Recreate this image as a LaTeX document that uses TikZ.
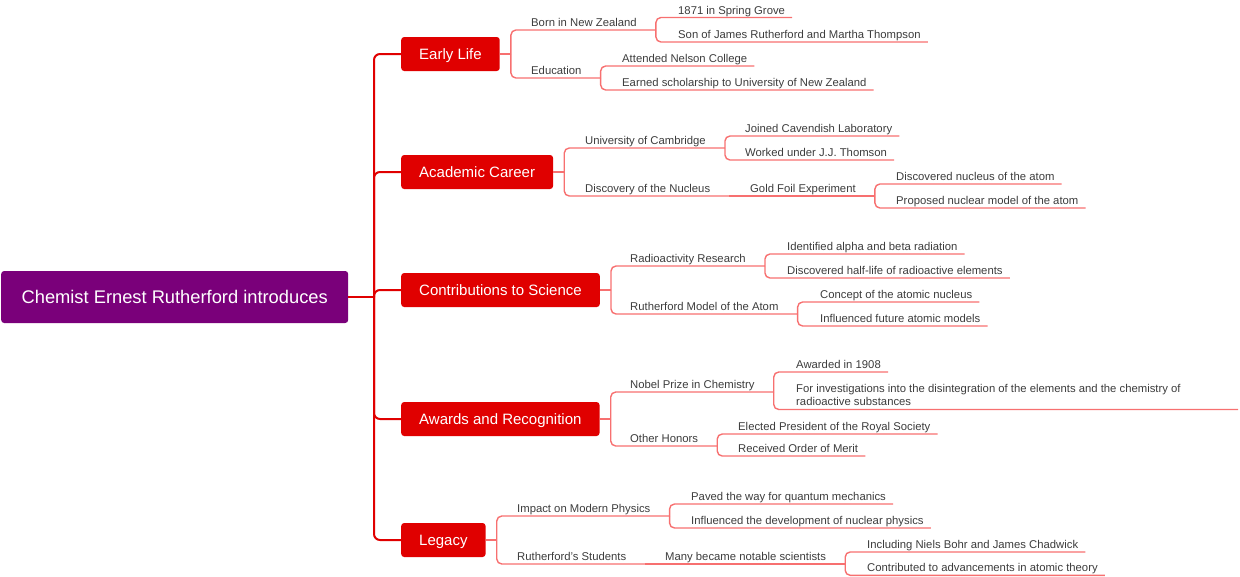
\documentclass[tikz,border=0pt]{standalone}
\usepackage{fontspec}
\setmainfont{Liberation Sans}
\usetikzlibrary{positioning}

\definecolor{rootpurple}{RGB}{122,0,122}
\definecolor{mainred}{RGB}{224,0,0}
\definecolor{linkred}{RGB}{247,112,112}
\definecolor{textgray}{RGB}{60,60,60}

\tikzstyle{root} = [fill=rootpurple, text=white, rounded corners=3pt, minimum width=347pt, minimum height=52pt, inner sep=0pt, font=\fontsize{18.3}{22}\selectfont]
\tikzstyle{branch} = [fill=mainred, text=white, rounded corners=3pt, minimum height=34pt, inner xsep=18pt, inner ysep=0pt, text height=11pt, text depth=0pt, font=\fontsize{15}{18}\selectfont]
\tikzstyle{topic} = [anchor=south west, inner sep=0pt, text height=8.5pt, text depth=3.2pt, text=textgray, font=\fontsize{11.3}{13}\selectfont]
\tikzstyle{longtopic} = [anchor=north west, inner sep=0pt, align=left, text=textgray, font=\fontsize{11.3}{13}\selectfont]
\tikzstyle{spine} = [draw=mainred, line width=2pt, rounded corners=6pt]
\tikzstyle{link} = [draw=linkred, line width=1.4pt, rounded corners=5pt]

\begin{document}
\begin{tikzpicture}[x=1pt, y=-1pt]
%\draw[step=50, very thin,black!20] (0,0) grid (1240,576);
\useasboundingbox (0,0) rectangle (1240,576);

\node[root, anchor=west] (R) at (1,297) {Chemist Ernest Rutherford introduces};
\node[branch, anchor=west] (EL) at (401,54) {Early Life};
\node[branch, anchor=west] (AC) at (401,172) {Academic Career};
\node[branch, anchor=west] (CS) at (401,290) {Contributions to Science};
\node[branch, anchor=west] (AR) at (401,419) {Awards and Recognition};
\node[branch, anchor=west] (LG) at (401,540) {Legacy};

\coordinate (S) at (374,297);
\draw[spine] (R.east) -- (S);
\foreach \m in {EL,AC,CS,AR,LG}
  \draw[spine] (S) |- (\m.west);

% Early Life
\node[topic] (EL1) at (531,30) {Born in New Zealand};
\node[topic] (EL1a) at (678,17.5) {1871 in Spring Grove};
\node[topic] (EL1b) at (678,42) {Son of James Rutherford and Martha Thompson};
\node[topic] (EL2) at (531,78) {Education};
\node[topic] (EL2a) at (622,66) {Attended Nelson College};
\node[topic] (EL2b) at (622,90) {Earned scholarship to University of New Zealand};
\coordinate (EL-j) at ([xshift=11pt]EL.east);
\coordinate (EL1-j) at ([xshift=19pt]EL1.south east);
\coordinate (EL2-j) at ([xshift=19pt]EL2.south east);
\draw[link] (EL.east) -- (EL-j);
\draw[link] (EL-j) |- (EL1-j);
\draw[link] (EL-j) |- (EL2-j);
\draw[link] (EL1-j) |- ([xshift=7pt]EL1a.south east);
\draw[link] (EL1-j) |- ([xshift=7pt]EL1b.south east);
\draw[link] (EL2-j) |- ([xshift=7pt]EL2a.south east);
\draw[link] (EL2-j) |- ([xshift=7pt]EL2b.south east);

% Academic Career
\node[topic] (AC1) at (585,148) {University of Cambridge};
\node[topic] (AC1a) at (745,136) {Joined Cavendish Laboratory};
\node[topic] (AC1b) at (745,160) {Worked under J.J. Thomson};
\node[topic] (AC2) at (585,196) {Discovery of the Nucleus};
\node[topic] (AC2a) at (750,196) {Gold Foil Experiment};
\node[topic] (AC2a1) at (896,184) {Discovered nucleus of the atom};
\node[topic] (AC2a2) at (896,208) {Proposed nuclear model of the atom};
\coordinate (AC-j) at ([xshift=11pt]AC.east);
\coordinate (AC1-j) at ([xshift=19pt]AC1.south east);
\coordinate (AC2-j) at ([xshift=19pt]AC2.south east);
\coordinate (AC2a-j) at ([xshift=19pt]AC2a.south east);
\draw[link] (AC.east) -- (AC-j);
\draw[link] (AC-j) |- (AC1-j);
\draw[link] (AC-j) |- (AC2-j);
\draw[link] (AC1-j) |- ([xshift=7pt]AC1a.south east);
\draw[link] (AC1-j) |- ([xshift=7pt]AC1b.south east);
\draw[link] (AC2-j) -- (AC2a-j);
\draw[link] (AC2a-j) |- ([xshift=7pt]AC2a1.south east);
\draw[link] (AC2a-j) |- ([xshift=7pt]AC2a2.south east);

% Contributions to Science
\node[topic] (CS1) at (630,266) {Radioactivity Research};
\node[topic] (CS1a) at (787,254) {Identified alpha and beta radiation};
\node[topic] (CS1b) at (787,278) {Discovered half-life of radioactive elements};
\node[topic] (CS2) at (630,314) {Rutherford Model of the Atom};
\node[topic] (CS2a) at (820,302) {Concept of the atomic nucleus};
\node[topic] (CS2b) at (820,326) {Influenced future atomic models};
\coordinate (CS-j) at ([xshift=11pt]CS.east);
\coordinate (CS1-j) at ([xshift=19pt]CS1.south east);
\coordinate (CS2-j) at ([xshift=19pt]CS2.south east);
\draw[link] (CS.east) -- (CS-j);
\draw[link] (CS-j) |- (CS1-j);
\draw[link] (CS-j) |- (CS2-j);
\draw[link] (CS1-j) |- ([xshift=7pt]CS1a.south east);
\draw[link] (CS1-j) |- ([xshift=7pt]CS1b.south east);
\draw[link] (CS2-j) |- ([xshift=7pt]CS2a.south east);
\draw[link] (CS2-j) |- ([xshift=7pt]CS2b.south east);

% Awards and Recognition
\node[topic] (AR1) at (630,392) {Nobel Prize in Chemistry};
\node[topic] (AR1a) at (796,372) {Awarded in 1908};
\node[longtopic] (AR1b) at (796,384.6) {For investigations into the disintegration of the elements and the chemistry of\\radioactive substances};
\node[topic] (AR2) at (630,446) {Other Honors};
\node[topic] (AR2a) at (738,434) {Elected President of the Royal Society};
\node[topic] (AR2b) at (738,456) {Received Order of Merit};
\coordinate (AR-j) at ([xshift=11pt]AR.east);
\coordinate (AR1-j) at ([xshift=19pt]AR1.south east);
\coordinate (AR2-j) at ([xshift=19pt]AR2.south east);
\coordinate (AR1b-e) at (1238,409.5);
\draw[link] (AR.east) -- (AR-j);
\draw[link] (AR-j) |- (AR1-j);
\draw[link] (AR-j) |- (AR2-j);
\draw[link] (AR1-j) |- ([xshift=7pt]AR1a.south east);
\draw[link] (AR1-j) |- (AR1b-e);
\draw[link] (AR2-j) |- ([xshift=7pt]AR2a.south east);
\draw[link] (AR2-j) |- ([xshift=7pt]AR2b.south east);

% Legacy
\node[topic] (LG1) at (517,516) {Impact on Modern Physics};
\node[topic] (LG1a) at (691,504) {Paved the way for quantum mechanics};
\node[topic] (LG1b) at (691,528) {Influenced the development of nuclear physics};
\node[topic] (LG2) at (517,564) {Rutherford's Students};
\node[topic] (LG2a) at (665,564) {Many became notable scientists};
\node[topic] (LG2a1) at (867,552) {Including Niels Bohr and James Chadwick};
\node[topic] (LG2a2) at (867,575.3) {Contributed to advancements in atomic theory};
\coordinate (LG-j) at ([xshift=11pt]LG.east);
\coordinate (LG1-j) at ([xshift=19pt]LG1.south east);
\coordinate (LG2-j) at ([xshift=19pt]LG2.south east);
\coordinate (LG2a-j) at ([xshift=19pt]LG2a.south east);
\draw[link] (LG.east) -- (LG-j);
\draw[link] (LG-j) |- (LG1-j);
\draw[link] (LG-j) |- (LG2-j);
\draw[link] (LG1-j) |- ([xshift=7pt]LG1a.south east);
\draw[link] (LG1-j) |- ([xshift=7pt]LG1b.south east);
\draw[link] (LG2-j) -- (LG2a-j);
\draw[link] (LG2a-j) |- ([xshift=7pt]LG2a1.south east);
\draw[link] (LG2a-j) |- ([xshift=7pt]LG2a2.south east);
\end{tikzpicture}
\end{document}
